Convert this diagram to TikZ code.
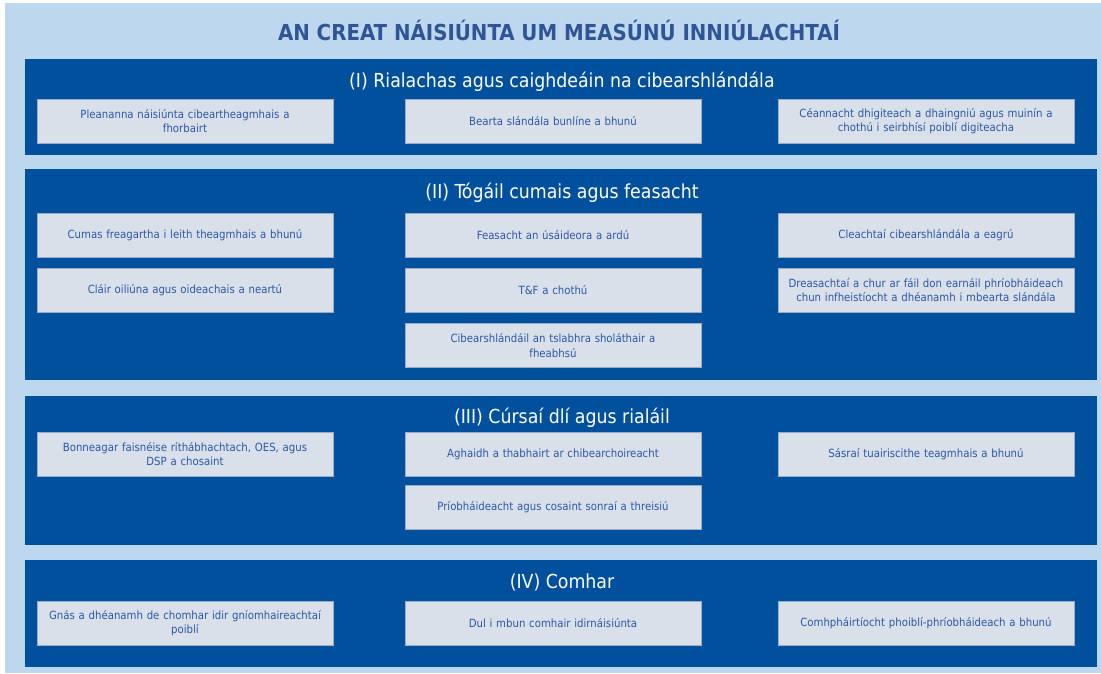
\documentclass[tikz,border=0pt]{standalone}
\usepackage{fontspec}
\setmainfont{DejaVu Sans Condensed}
\newfontfamily\condfont{DejaVu Sans Condensed}
\definecolor{bgblue}{HTML}{BDD7EE}
\definecolor{panelblue}{HTML}{00509E}
\definecolor{titleblue}{HTML}{2F5597}
\definecolor{boxfill}{HTML}{DAE0EA}
\definecolor{boxline}{HTML}{9AADC8}
\definecolor{boxtext}{HTML}{2A58A6}
\tikzset{
  panel/.style={fill=panelblue, draw=none},
  itembox/.style={fill=boxfill, draw=boxline, line width=0.8pt, minimum width=296pt, minimum height=44pt,
    text width=292pt, align=center, inner sep=0pt, text=boxtext,
    font=\condfont\fontsize{11.3}{14.5}\selectfont},
  sectitle/.style={text=white, font=\condfont\fontsize{19.3}{21}\selectfont, inner sep=0pt},
  maintitle/.style={text=titleblue, font=\condfont\bfseries\fontsize{22}{24}\selectfont, inner sep=0pt}
}
\begin{document}
\begin{tikzpicture}[x=1pt,y=-1pt]
\useasboundingbox (0,0) rectangle (1101,673);
\fill[white] (0,0) rectangle (1101,673);
\fill[bgblue] (5,3) rectangle (1101,673);
\node[maintitle] (title) at (559,30) {AN CREAT NÁISIÚNTA UM MEASÚNÚ INNIÚLACHTAÍ};
% panels
\fill[panel] (25,59) rectangle (1097,155);
\fill[panel] (25,169) rectangle (1097,380);
\fill[panel] (25,396) rectangle (1097,545);
\fill[panel] (25,560) rectangle (1097,667);
% section titles
\node[sectitle] (s1) at (562,82) {(I) Rialachas agus caighdeáin na cibearshlándála};
\node[sectitle] (s2) at (562,193) {(II) Tógáil cumais agus feasacht};
\node[sectitle] (s3) at (562,418) {(III) Cúrsaí dlí agus rialáil};
\node[sectitle] (s4) at (562,582) {(IV) Comhar};
% panel I
\node[itembox] (a1) at (185,121) {Pleananna náisiúnta cibeartheagmhais a\\fhorbairt};
\node[itembox] (a2) at (553,121) {Bearta slándála bunlíne a bhunú};
\node[itembox] (a3) at (926,121) {Céannacht dhigiteach a dhaingniú agus muinín a\\chothú i seirbhísí poiblí digiteacha};
% panel II
\node[itembox] (b1) at (185,235) {Cumas freagartha i leith theagmhais a bhunú};
\node[itembox] (b2) at (185,290) {Cláir oiliúna agus oideachais a neartú};
\node[itembox] (b3) at (553,235) {Feasacht an úsáideora a ardú};
\node[itembox] (b4) at (553,290) {T\&F a chothú};
\node[itembox] (b5) at (553,345.5) {Cibearshlándáil an tslabhra sholáthair a\\fheabhsú};
\node[itembox] (b6) at (926,235) {Cleachtaí cibearshlándála a eagrú};
\node[itembox] (b7) at (926,290) {Dreasachtaí a chur ar fáil don earnáil phríobháideach\\chun infheistíocht a dhéanamh i mbearta slándála};
% panel III
\node[itembox] (c1) at (185,454) {Bonneagar faisnéise ríthábhachtach, OES, agus\\DSP a chosaint};
\node[itembox] (c2) at (553,454) {Aghaidh a thabhairt ar chibearchoireacht};
\node[itembox] (c3) at (553,507) {Príobháideacht agus cosaint sonraí a threisiú};
\node[itembox] (c4) at (926,454) {Sásraí tuairiscithe teagmhais a bhunú};
% panel IV
\node[itembox] (d1) at (185,623) {Gnás a dhéanamh de chomhar idir gníomhaireachtaí\\poiblí};
\node[itembox] (d2) at (553,623) {Dul i mbun comhair idirnáisiúnta};
\node[itembox] (d3) at (926,623) {Comhpháirtíocht phoiblí-phríobháideach a bhunú};
\end{tikzpicture}
\end{document}
